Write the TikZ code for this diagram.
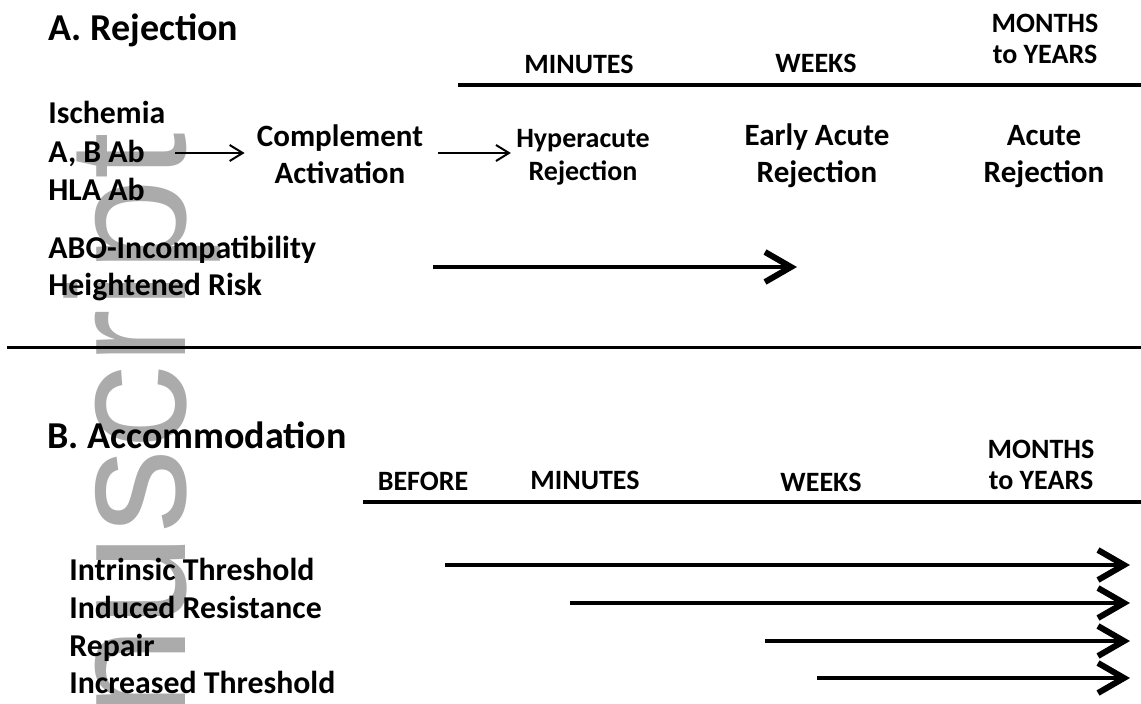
\documentclass[tikz,border=0pt]{standalone}
\usepackage{fontspec}
\setmainfont{Carlito}
\newfontfamily\wmfont{Liberation Sans}
\usetikzlibrary{arrows.meta}
\tikzstyle{ttl}=[anchor=base west, inner sep=0, font=\bfseries\fontsize{19}{22}\selectfont]
\tikzstyle{lbl}=[anchor=base west, inner sep=0, font=\bfseries\fontsize{15.9}{18.5}\selectfont]
\tikzstyle{when}=[anchor=base, inner sep=0, align=center, font=\bfseries\fontsize{14}{15.5}\selectfont]
\tikzstyle{stage}=[anchor=base, inner sep=0, align=center, font=\bfseries\fontsize{15.5}{18.5}\selectfont]
\tikzstyle{tline}=[line width=2pt]
\tikzstyle{sarr}=[line width=1pt, -{Straight Barb[length=6.5pt, width=8pt, line width=1pt]}]
\tikzstyle{larr}=[line width=1.9pt, -{Straight Barb[length=13pt, width=15pt, line width=3pt]}]

\begin{document}
\begin{tikzpicture}[x=0.5pt, y=-0.5pt]
\useasboundingbox (0,0) rectangle (1141,703);
\node[rotate=90, anchor=base east, inner sep=0, text=black!33, font=\wmfont\fontsize{84}{84}\selectfont] (wm) at (185,132) {nuscript};
\node[ttl] (ta) at (48,40) {A. Rejection};
\node[when] (mina) at (579,73) {MINUTES};
\node[when] (weeksa) at (816,72) {WEEKS};
\node[when] (montha) at (1045,63) {MONTHS\\to YEARS};
\draw[tline] (458,85) -- (1141,85);
\node[lbl] (isch) at (48,123) {Ischemia};
\node[lbl] (abab) at (48,162) {A, B Ab};
\node[lbl] (hla) at (48,200) {HLA Ab};
\node[stage] (compl) at (340,183) {Complement\\Activation};
\node[stage, font=\bfseries\fontsize{14}{16.5}\selectfont] (hyper) at (583,180) {Hyperacute\\Rejection};
\node[stage] (early) at (817,182) {Early Acute\\Rejection};
\node[stage] (acute) at (1044,182) {Acute\\Rejection};
\draw[sarr] ([xshift=15pt]abab.east) -- ([xshift=-6pt]abab.east -| compl.west);
\draw[sarr] ([xshift=7.5pt]abab.east -| compl.east) -- ([xshift=-2.5pt]abab.east -| hyper.west);
\node[lbl] (abo) at (48,258) {ABO-Incompatibility};
\node[lbl] (risk) at (48,295) {Heightened Risk};
\coordinate (r0) at (433,267);
\coordinate (r1) at (797,267);
\draw[larr] (r0) -- (r1);
\draw[line width=1.5pt] (7,347) -- (1141,347);
\node[ttl] (tb) at (47,448) {B. Accommodation};
\node[when] (before) at (423,490) {BEFORE};
\node[when] (minb) at (585,489) {MINUTES};
\node[when] (weeksb) at (821,491) {WEEKS};
\node[when] (monthb) at (1041,489) {MONTHS\\to YEARS};
\draw[tline] (363,502) -- (1141,502);
\foreach \n/\t/\y/\s in {1/Intrinsic Threshold/580/445, 2/Induced Resistance/618/570, 3/Repair/656/765, 4/Increased Threshold/693/817}
	{\node[lbl] (acc\n) at (69,\y) {\t};
	\coordinate (s\n) at (\s,\y-15);
	\coordinate (e\n) at (1130,\y-15);
	\draw[larr] (s\n) -- (e\n);}
\end{tikzpicture}
\end{document}
